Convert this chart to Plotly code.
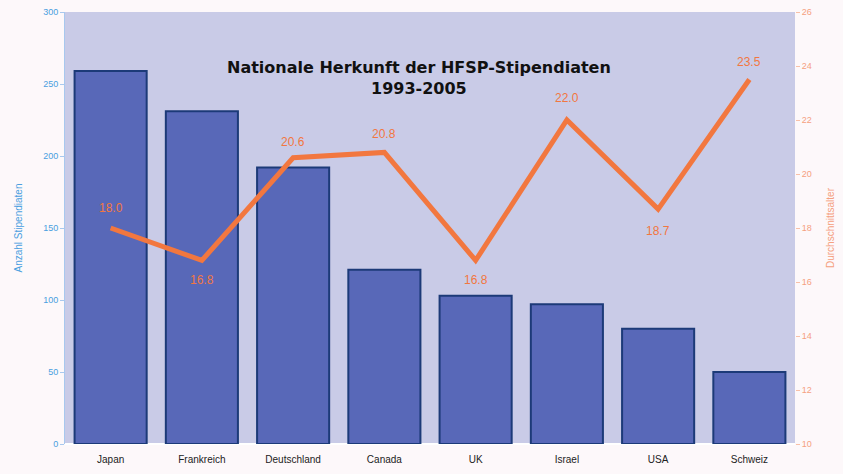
import plotly.graph_objects as go

countries = ["Japan", "Frankreich", "Deutschland", "Canada", "UK", "Israel", "USA", "Schweiz"]
stipendiaten = [259, 231, 192, 121, 103, 97, 80, 50]
alter = [18.0, 16.8, 20.6, 20.8, 16.8, 22.0, 18.7, 23.5]
alter_labels = ["18.0", "16.8", "20.6", "20.8", "16.8", "22.0", "18.7", "23.5"]
label_shift = [20, -20, 16, 18, -20, 22, -22, 18]
left_ticks = [0, 50, 100, 150, 200, 250, 300]
right_ticks = [10, 12, 14, 16, 18, 20, 22, 24, 26]

fig = go.Figure()
fig.add_trace(go.Bar(
    x=countries, y=stipendiaten, yaxis="y",
    marker=dict(color="#5868b8", line=dict(color="#1c3a78", width=2)),
    showlegend=False,
))
fig.add_trace(go.Scatter(
    x=countries, y=alter, yaxis="y2", mode="lines",
    line=dict(color="#f2773f", width=5),
    showlegend=False,
))

annots = [dict(
    text="<b>Nationale Herkunft der HFSP-Stipendiaten<br>1993-2005</b>",
    x=0.485, y=0.847, xref="paper", yref="paper", showarrow=False,
    yanchor="middle",
    font=dict(size=16, color="#111111", family="DejaVu Sans"),
)]
for c, v, t, s in zip(countries, alter, alter_labels, label_shift):
    annots.append(dict(
        x=c, y=v, xref="x", yref="y2", text=t, showarrow=False,
        yshift=s, font=dict(size=12, color="#f2773f", family="Liberation Sans"),
    ))

fig.update_layout(
    width=843, height=474,
    margin=dict(l=65, r=48, t=12, b=30),
    paper_bgcolor="#fdf8fa",
    plot_bgcolor="#c9cbe7",
    bargap=0.21,
    font=dict(family="Liberation Sans"),
    xaxis=dict(tickfont=dict(size=10, color="#222222"), showgrid=False, ticks="",
               automargin=False, ticklabelstandoff=8),
    yaxis=dict(range=[0, 300], tickvals=left_ticks, showgrid=False, automargin=False,
               tickfont=dict(size=9, color="#4a9fe0"),
               title=dict(text="Anzahl Stipendiaten", font=dict(size=10, color="#4a9fe0"), standoff=18),
               showline=True, linecolor="#a8c8ee", ticks="outside", tickcolor="#a8c8ee", ticklen=4),
    yaxis2=dict(range=[10, 26], tickvals=right_ticks, overlaying="y", side="right",
                showgrid=False, automargin=False, tickfont=dict(size=9, color="#f5a080"),
                title=dict(text="Durchschnittsalter", font=dict(size=10, color="#f5a080"), standoff=16),
                ticks="outside", tickcolor="#f8c0a8", ticklen=4),
    annotations=annots,
)

fig.write_html("out.html", config={"displayModeBar": False},
               post_script="document.body.style.margin='0';")
